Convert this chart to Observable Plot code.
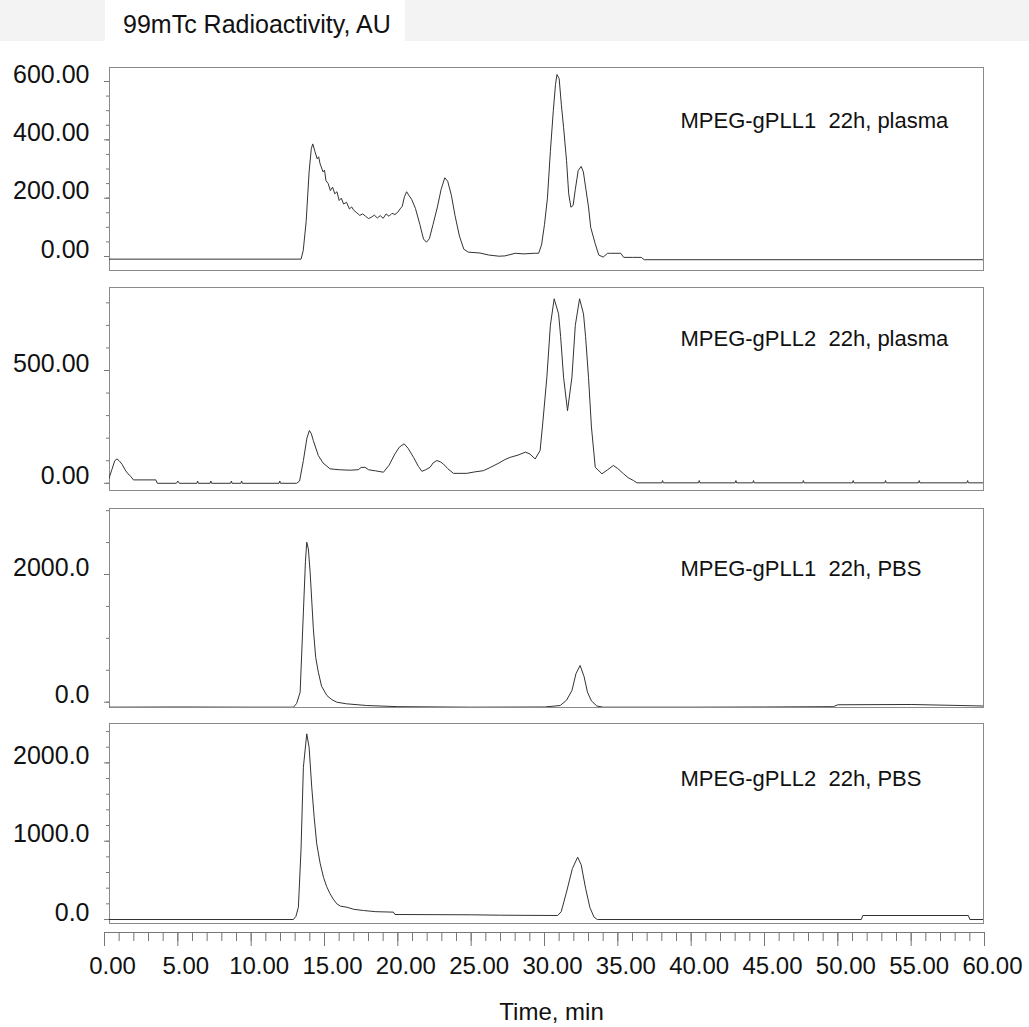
<!DOCTYPE html>
<html><head><meta charset="utf-8">
<script src="https://cdn.jsdelivr.net/npm/d3@7"></script>
<script src="https://cdn.jsdelivr.net/npm/@observablehq/plot@0.6"></script>
<style>
body{margin:0;background:#fff;}
#root{position:relative;width:1029px;height:1027px;overflow:hidden;font-family:"Liberation Sans",Arial,sans-serif;}
#root svg{position:absolute;left:0;overflow:visible;}
.band{position:absolute;top:0;height:41px;left:0;width:1029px;background:#f3f3f3;}
#title{position:absolute;left:105px;top:0;width:300px;height:41px;background:#fff;}
#title span{position:absolute;left:18px;top:12px;font-size:25px;line-height:1;color:#111;white-space:nowrap;}
</style>
</head><body>
<div id="root">
  <div class="band"></div>
  <div id="title"><span>99mTc Radioactivity, AU</span></div>
</div>
<script>
// ---------- data (time in min, activity in AU) ----------
const titleText = "99mTc Radioactivity, AU";
const xLabel = "Time, min";
const panelLabels = [
  "MPEG-gPLL1\u00a0 22h, plasma",
  "MPEG-gPLL2\u00a0 22h, plasma",
  "MPEG-gPLL1\u00a0 22h, PBS",
  "MPEG-gPLL2\u00a0 22h, PBS"
];

const plasma1 = [[0,-9],[13.4,-9],[13.55,20],[13.75,120],[13.95,290],[14.1,370],[14.2,386],[14.35,360],[14.5,335],[14.6,342],[14.7,318],[14.9,290],[15.0,296],[15.1,260],[15.25,250],[15.4,226],[15.55,238],[15.7,215],[15.85,222],[16.0,192],[16.15,200],[16.3,180],[16.5,186],[16.7,163],[16.85,170],[17.0,158],[17.2,150],[17.4,141],[17.6,146],[17.8,138],[18.0,130],[18.2,135],[18.4,142],[18.6,132],[18.8,140],[19.0,131],[19.2,146],[19.4,138],[19.6,148],[19.8,144],[20.0,152],[20.15,163],[20.3,172],[20.45,205],[20.6,222],[20.75,210],[20.95,195],[21.2,165],[21.5,110],[21.75,60],[21.95,49],[22.15,61],[22.4,110],[22.7,170],[22.95,230],[23.2,270],[23.4,258],[23.65,210],[23.9,140],[24.2,70],[24.5,25],[24.8,15],[25.6,12],[26.2,5],[26.9,1],[27.3,2],[28.0,11],[28.6,9],[29.3,11],[29.6,11],[29.8,40],[30.0,110],[30.2,200],[30.4,360],[30.6,500],[30.75,590],[30.85,624],[31.0,610],[31.15,520],[31.3,443],[31.5,330],[31.65,215],[31.8,169],[31.95,175],[32.1,230],[32.3,295],[32.5,309],[32.65,290],[32.8,238],[33.0,170],[33.15,100],[33.45,45],[33.7,5],[34.0,-2],[34.3,11],[34.5,11],[35.2,11],[35.4,-3],[36.0,-3],[36.6,-3],[36.8,-11],[60,-11]];

const plasma2 = [[0.3,20],[0.5,60],[0.7,100],[0.85,108],[1.0,100],[1.2,84],[1.4,60],[1.6,42],[1.8,30],[1.97,15],[3.5,15],[3.6,0],[4.9,0],[5.0,10],[5.1,0],[6.3,0],[6.35,10],[6.4,0],[7.2,0],[7.25,10],[7.3,0],[8.6,0],[8.65,10],[8.7,0],[9.3,0],[9.35,10],[9.4,0],[11.9,0],[11.95,10],[12.0,0],[13.1,0],[13.3,10],[13.56,101],[13.8,200],[13.97,234],[14.1,220],[14.24,189],[14.58,123],[14.9,90],[15.38,64],[16.0,60],[16.75,58],[17.3,60],[17.5,70],[17.76,71],[18.0,60],[18.5,55],[19.02,49],[19.4,80],[19.8,130],[20.1,160],[20.43,175],[20.7,155],[21.07,115],[21.4,75],[21.64,53],[21.9,60],[22.2,71],[22.4,90],[22.66,101],[22.9,95],[23.1,86],[23.4,65],[23.79,44],[24.7,44],[25.2,50],[25.84,56],[26.3,70],[26.9,90],[27.3,105],[27.66,115],[28.2,125],[28.7,138],[29.0,130],[29.36,108],[29.7,145],[29.9,280],[30.16,470],[30.4,700],[30.66,818],[30.96,751],[31.1,650],[31.3,470],[31.57,322],[31.87,470],[32.1,700],[32.39,818],[32.66,751],[32.8,650],[33.0,470],[33.2,250],[33.46,71],[33.92,42],[34.3,60],[34.7,79],[35.0,65],[35.39,42],[35.7,25],[36.07,12],[36.3,2],[38.0,2],[38.05,12],[38.1,2],[40.5,2],[40.55,12],[40.6,2],[43.0,2],[43.05,12],[43.1,2],[44.2,2],[44.25,12],[44.3,2],[47.6,2],[47.65,12],[47.7,2],[51.0,2],[51.05,12],[51.1,2],[53.2,2],[53.25,12],[53.3,2],[55.5,2],[55.55,12],[55.6,2],[58.8,2],[58.85,12],[58.9,2],[60,2]];

const pbs1 = [[0,-78],[5,-75],[10,-78],[12.88,-78],[13.1,-20],[13.34,157],[13.56,1410],[13.7,2200],[13.79,2506],[13.9,2400],[14.02,2036],[14.24,1150],[14.4,700],[14.58,470],[14.8,250],[15.16,105],[15.5,40],[15.84,0],[16.5,-25],[17.88,-52],[20,-70],[25,-78],[30,-75],[31.07,-52],[31.5,30],[31.87,183],[32.15,450],[32.43,575],[32.7,400],[32.93,157],[33.2,20],[33.57,-60],[34,-78],[40,-78],[45,-75],[49.7,-70],[50,-40],[55,-36],[58.4,-52],[60,-60]];

const pbs2 = [[0,0],[12.88,0],[13.05,40],[13.22,157],[13.4,900],[13.56,1945],[13.79,2371],[13.95,2200],[14.13,1690],[14.3,1300],[14.47,967],[14.7,720],[14.93,540],[15.15,420],[15.38,328],[15.6,260],[15.84,200],[16.1,170],[16.52,157],[17.0,130],[17.65,115],[18.5,100],[19.7,94],[19.8,64],[25,60],[27,55],[30.9,51],[31.14,100],[31.5,350],[31.9,650],[32.26,796],[32.5,700],[32.8,400],[33.1,150],[33.38,30],[33.6,0],[51.6,0],[51.7,51],[58.9,51],[59,0],[60,0]];

const yMajor1 = [0, 200, 400, 600];
const yMinor1 = [0, 50, 100, 150, 200, 250, 300, 350, 400, 450, 500, 550, 600];
const yMajor2 = [0, 500];
const yMinor2 = [0, 100, 200, 300, 400, 500, 600, 700, 800];
const yMajor3 = [0, 2000];
const yMinor3 = [0, 500, 1000, 1500, 2000, 2500, 3000];
const yMajor4 = [0, 1000, 2000];
const yMinor4 = [0, 200, 400, 600, 800, 1000, 1200, 1400, 1600, 1800, 2000, 2200, 2400];
const xMajor = [0, 5, 10, 15, 20, 25, 30, 35, 40, 45, 50, 55, 60];
const xMinor = d3.range(0, 61, 1);

// ---------- layout ----------
const FONT = '"Liberation Sans", Arial, sans-serif';
const root = document.getElementById("root");
const W = 1029;
const ML = 109, MR = 46;               // panel frame edges
const AXL = 104, AXR = 45;             // shared time axis edges
const pxPerMin = (W - AXL - AXR) / 60;
const xDom = [(ML - AXL) / pxPerMin, 60 - (MR - AXR) / pxPerMin];

const panels = [
  {data: plasma1, top: 67, bottom: 270, domain: [-48, 648], major: yMajor1, minor: yMinor1, fmt: ".2f", label: panelLabels[0], labelDy: 60},
  {data: plasma2, top: 287, bottom: 490, domain: [-32, 868], major: yMajor2, minor: yMinor2, fmt: ".2f", label: panelLabels[1], labelDy: 58},
  {data: pbs1, top: 508, bottom: 707, domain: [-83, 3034], major: yMajor3, minor: yMinor3, fmt: ".1f", label: panelLabels[2], labelDy: 67},
  {data: pbs2, top: 723, bottom: 923, domain: [-51, 2503], major: yMajor4, minor: yMinor4, fmt: ".1f", label: panelLabels[3], labelDy: 62}
];

for (const p of panels) {
  const pad = 15;
  const svg = Plot.plot({
    width: W,
    height: p.bottom - p.top + 2 * pad,
    marginTop: pad, marginBottom: pad, marginLeft: ML, marginRight: MR,
    style: {background: "transparent", fontFamily: FONT, color: "#111", overflow: "visible"},
    x: {domain: xDom, axis: null},
    y: {domain: p.domain, axis: null},
    marks: [
      Plot.frame({stroke: "#8a8a8a"}),
      Plot.axisY({ticks: p.minor, tickSize: 3, tickFormat: () => "", stroke: "#777", label: null}),
      Plot.axisY({ticks: p.major, tickSize: 5, tickFormat: () => "", stroke: "#777", label: null}),
      Plot.axisY({ticks: p.major, tickSize: 0, tickPadding: 20, tickFormat: d3.format(p.fmt), fontSize: 25, dy: -7, fill: "#111", label: null}),
      Plot.line(p.data, {x: d => d[0], y: d => d[1], stroke: "#333", strokeWidth: 1, clip: true}),
      Plot.text([p.label], {text: d => d, frameAnchor: "top-left", dx: 571, dy: p.labelDy, textAnchor: "start", lineAnchor: "bottom", fontSize: 22, fill: "#111"})
    ]
  });
  svg.style.top = (p.top - pad) + "px";
  root.appendChild(svg);
}

// shared time axis
const axisTop = 900;
const axis = Plot.plot({
  width: W, height: 127,
  marginTop: 30, marginBottom: 95, marginLeft: AXL, marginRight: AXR,
  style: {background: "transparent", fontFamily: FONT, color: "#111", overflow: "visible"},
  x: {domain: [0, 60], axis: null},
  y: {domain: [0, 1], axis: null},
  marks: [
    Plot.ruleY([0], {stroke: "#777"}),
    Plot.axisX({ticks: xMinor, tickSize: 9, tickFormat: () => "", stroke: "#777", label: null}),
    Plot.axisX({ticks: xMajor, tickSize: 14, tickFormat: () => "", stroke: "#777", label: null}),
    Plot.axisX({ticks: xMajor, tickSize: 0, tickPadding: 24, tickFormat: d3.format(".2f"), fontSize: 24, dx: 8, fill: "#111", label: null}),
    Plot.text([xLabel], {text: d => d, frameAnchor: "bottom", dy: 87, dx: 7, lineAnchor: "bottom", fontSize: 24, fill: "#111"})
  ]
});
axis.style.top = axisTop + "px";
root.appendChild(axis);
</script>
</body></html>
